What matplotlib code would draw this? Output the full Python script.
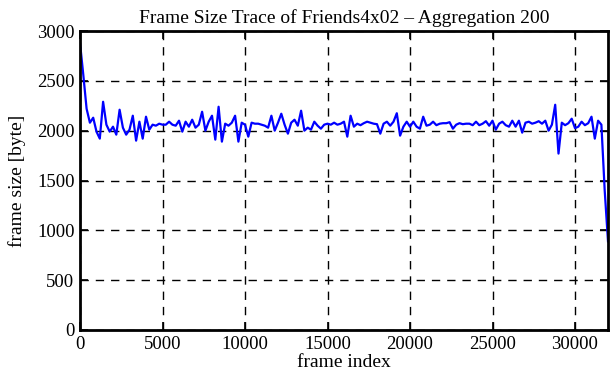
import numpy as np
import matplotlib

matplotlib.use("Agg")
matplotlib.rcParams["font.family"] = ["Liberation Serif", "DejaVu Serif"]
import matplotlib.pyplot as plt

AGGREGATION = 200

# aggregated frame sizes in byte, one value per 200 frames
frame_size = [
    2880, 2560, 2220, 2080, 2130, 1990, 1920, 2290, 2060, 1990,
    2040, 1960, 2210, 2030, 1960, 2010, 2150, 1900, 2090, 1920,
    2140, 2010, 2060, 2050, 2070, 2060, 2060,
    2090, 2060, 2050, 2100, 1990, 2090, 2040, 2110, 2030, 2060,
    2190, 2000, 2090, 2150, 1910, 2240, 1890, 2070, 2050, 2080,
    2150, 1890, 2080, 2060, 1940, 2080, 2070,
    2070, 2060, 2050, 2030, 2150, 2000, 2080, 2170, 2060, 1970,
    2080, 2110, 2050, 2200, 2000, 2030, 2010, 2090, 2050, 2020,
    2060, 2070, 2060, 2080, 2060, 2070, 2090, 1940,
    2150, 2040, 2070, 2055, 2075, 2090, 2080, 2070, 2065, 1970,
    2070, 2090, 2050, 2090, 2175, 1950, 2040, 2090, 2040, 2090,
    2040, 2020, 2140, 2050, 2060, 2090, 2055, 2070,
    2075, 2075, 2085, 2020, 2060, 2075, 2065, 2070, 2070, 2055,
    2090, 2055, 2070, 2095, 2050, 2100, 2010, 2070, 2090, 2055,
    2040, 2100, 2040, 2100, 1980, 2080, 2090,
    2070, 2080, 2095, 2070, 2100, 2000, 2060, 2260, 1770, 2080,
    2055, 2075, 2120, 2025, 2040, 2090, 2055, 2075, 2140, 1920,
    2100, 2060, 1400, 890,
]
frame_index = np.arange(len(frame_size)) * AGGREGATION

x_ticks = [0, 5000, 10000, 15000, 20000, 25000, 30000]
y_ticks = [0, 500, 1000, 1500, 2000, 2500, 3000]

fig, ax = plt.subplots(figsize=(6.11, 3.8), dpi=100)
fig.subplots_adjust(left=80 / 611, right=608 / 611, bottom=50 / 380, top=349 / 380)

ax.plot(frame_index, frame_size, color="#0000ff", linewidth=1.6)

ax.set_xlim(0, frame_index[-1])
ax.set_ylim(0, 3000)
ax.set_xticks(x_ticks)
ax.set_yticks(y_ticks)
ax.grid(True, color="black", linestyle=(0, (6, 5)), linewidth=1.0)
ax.tick_params(direction="in", length=6, width=1.2, top=True, right=True, labelsize=13.5, pad=4)
for sp in ax.spines.values():
    sp.set_linewidth(2)

ax.set_title("Frame Size Trace of Friends4x02 \u2013 Aggregation 200", fontsize=14, pad=6)
ax.set_xlabel("frame index", fontsize=14, labelpad=1)
ax.set_ylabel("frame size [byte]", fontsize=14, labelpad=8)

plt.savefig("out.png", dpi=100, facecolor="white")
